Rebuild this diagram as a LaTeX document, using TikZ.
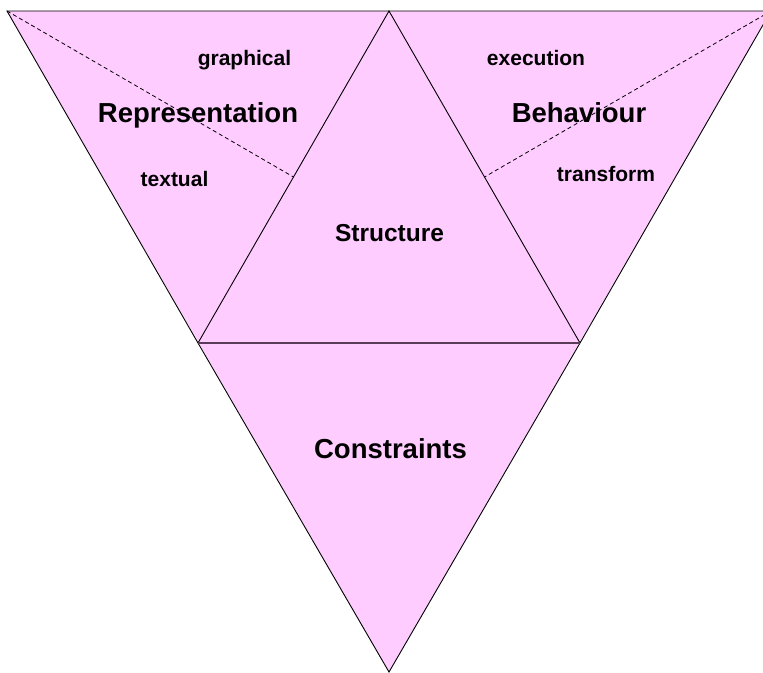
\documentclass[tikz,border=0pt]{standalone}
\usepackage{fontspec}
\setmainfont{Liberation Sans}
\usepackage{tikz}
\usepackage{xcolor}
\usetikzlibrary{calc}
\definecolor{facepink}{HTML}{FFCCFF}
\definecolor{seamline}{RGB}{90,60,90}
\tikzset{
  edge/.style  ={draw=black, line width=0.9pt, line join=miter},
  seam/.style  ={draw=seamline, line width=1.8pt},
  split/.style ={draw=black, line width=0.8pt, dash pattern=on 4pt off 3pt},
  face/.style  ={font=\bfseries\fontsize{27.5}{30}\selectfont, inner sep=0pt, anchor=base},
  core/.style  ={font=\bfseries\fontsize{24.5}{27}\selectfont, inner sep=0pt, anchor=base},
  aspect/.style={font=\bfseries\fontsize{21}{23}\selectfont, inner sep=0pt, anchor=base},
}

\begin{document}
\begin{tikzpicture}[x=1pt,y=-1pt]
\useasboundingbox (0,0) rectangle (763,672);
\coordinate (tl) at (7,11);
\coordinate (tm) at (389,11);
\coordinate (tr) at (771,11);
\coordinate (ml) at (198,343);
\coordinate (mr) at (580,343);
\coordinate (bot) at (389,672);
\coordinate (dl) at ($(ml)!0.5!(tm)$);
\coordinate (dr) at ($(mr)!0.5!(tm)$);

\fill[facepink] (tl) -- (tr) -- (bot) -- cycle;
\draw[split] (tl) -- (dl);
\draw[split] (tr) -- (dr);
\draw[edge] (tl) -- (tr) -- (mr) -- (bot) -- (ml) -- cycle;
\draw[edge] (ml) -- (tm) -- (mr);
\draw[seam] (ml) -- (mr);

\node[face]   (rep)  at (198,122) {Representation};
\node[aspect] (gra)  at (244.5,65) {graphical};
\node[aspect] (txt)  at (174.5,186) {textual};
\node[face]   (beh)  at (579,122) {Behaviour};
\node[aspect] (exe)  at (536,65) {execution};
\node[aspect] (trf)  at (606,181) {transform};
\node[core]   (str)  at (389.5,241) {Structure};
\node[face]   (con)  at (390.5,458) {Constraints};
\end{tikzpicture}
\end{document}
